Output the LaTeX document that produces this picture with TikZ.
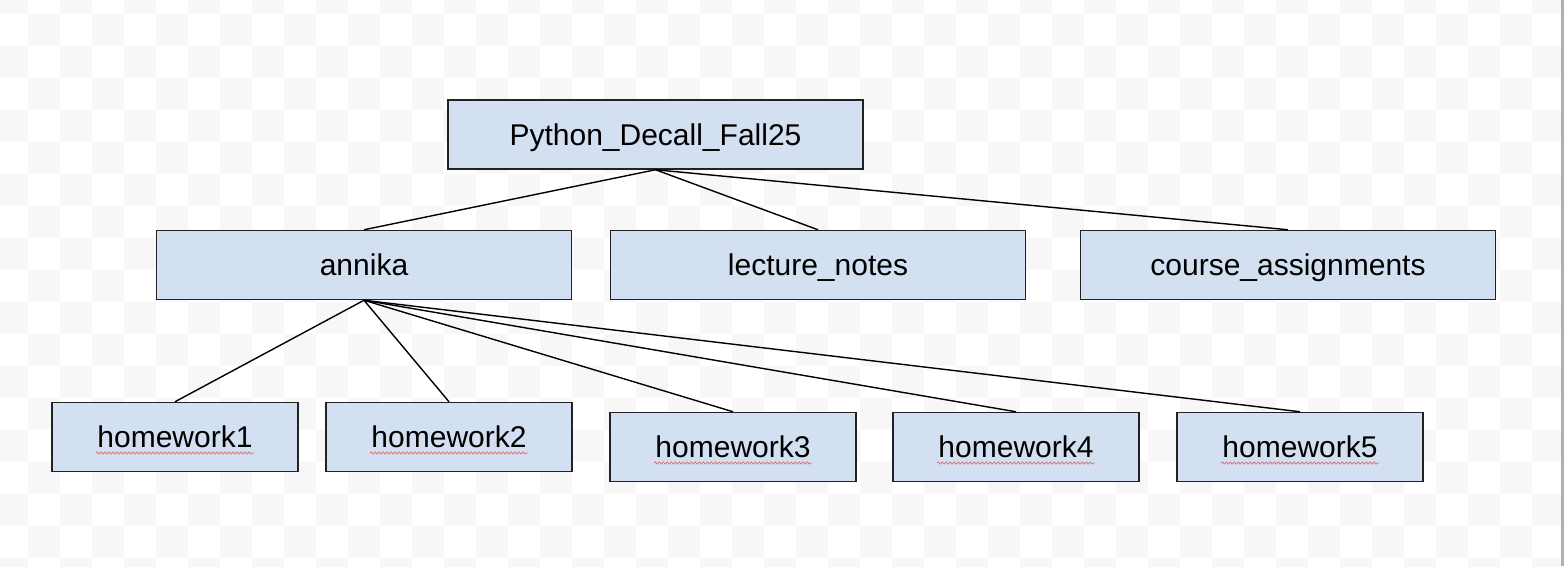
\documentclass[tikz,border=0pt]{standalone}
\usepackage{fontspec}
\setmainfont{Liberation Sans}
\usetikzlibrary{calc,decorations.pathmorphing}
\definecolor{boxfill}{HTML}{D3E0F1}
\definecolor{boxline}{HTML}{222222}
\definecolor{checker}{HTML}{F7F7F7}
\definecolor{edgeline}{HTML}{B0B0B0}
\definecolor{spell}{HTML}{E06A6A}
\tikzset{
  dirbox/.style={draw=boxline, fill=boxfill, line width=1.5pt, inner sep=0pt,
    font=\fontsize{30}{36}\selectfont, text height=21.5pt, text depth=0pt},
  bigbox/.style={dirbox, minimum width=415pt, minimum height=69pt},
  smallbox/.style={dirbox, minimum width=246pt, minimum height=69pt},
  link/.style={line width=1.4pt, draw=black},
  squiggle/.style={draw=spell, line width=0.7pt,
    decorate, decoration={snake, segment length=4pt, amplitude=1.1pt}}
}
\begin{document}
\begin{tikzpicture}[x=1pt,y=-1pt]
\useasboundingbox (0,0) rectangle (1568,566);
\fill[white] (0,0) rectangle (1568,566);
\begin{scope}
\clip (0,0) rectangle (1561,566);
\foreach \i in {0,...,49}{
  \foreach \j in {0,...,18}{
    \pgfmathtruncatemacro\cellparity{mod(\i+\j,2)}
    \ifnum\cellparity=0
      \fill[checker] (-4+32*\i,-18+32*\j) rectangle ++(32,32);
    \fi
  }
}
\end{scope}
\fill[edgeline] (1561,0) rectangle (1564,566);

\node[bigbox] (root) at (655.5,134.5) {Python\_Decall\_Fall25};
\node[bigbox] (annika) at (364,265) {annika};
\node[bigbox] (notes) at (818,265) {lecture\_notes};
\node[bigbox] (assign) at (1288,265) {course\_assignments};

\node[smallbox] (hw1) at (175,437) {homework1};
\node[smallbox] (hw2) at (449,437) {homework2};
\node[smallbox] (hw3) at (733,447) {homework3};
\node[smallbox] (hw4) at (1016,447) {homework4};
\node[smallbox] (hw5) at (1300,447) {homework5};

\draw[link] (root.south) -- (annika.north);
\draw[link] (root.south) -- (notes.north);
\draw[link] (root.south) -- (assign.north);

\foreach \h in {hw1,hw2,hw3,hw4,hw5}{
  \draw[link] (annika.south) -- (\h.north);
  \draw[squiggle] ($(\h.center)+(-79,16)$) -- ($(\h.center)+(79,16)$);
}
\end{tikzpicture}
\end{document}
